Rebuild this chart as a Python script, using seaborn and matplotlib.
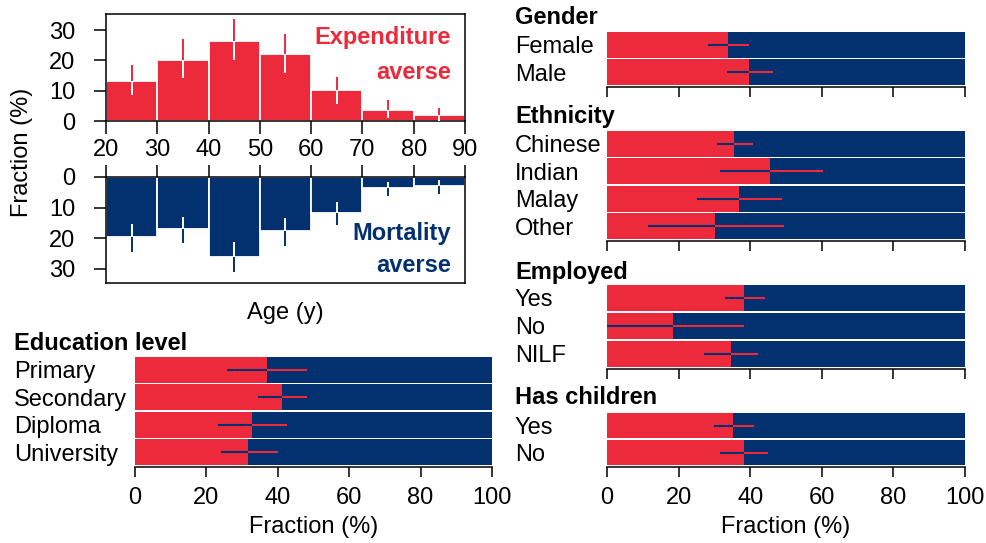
import matplotlib
matplotlib.use("Agg")
import matplotlib.pyplot as plt
import seaborn as sns
import numpy as np

# ── Config ────────────────────────────────────────────────────────
sns.set_theme(style="ticks")
plt.rcParams["font.family"] = ["Liberation Sans", "DejaVu Sans"]
plt.rcParams.update({"text.color": "black", "axes.labelcolor": "black",
                     "xtick.color": "black", "ytick.color": "black"})

RED  = "#EC2A3C"
NAVY = "#03316F"
FS   = 17

# ── Dados: histogramas por idade ──────────────────────────────────
AGE_EDGES = [20, 30, 40, 50, 60, 70, 80, 90]
AGE_MID   = [25, 35, 45, 55, 65, 75, 85]
EXP_FRAC  = [13.2, 20.2, 26.5, 22.1, 10.2, 3.6, 1.9]
EXP_LO    = [8.6, 14.3, 20.1, 15.9, 5.6, 0.9, 0.1]
EXP_HI    = [18.5, 26.9, 33.5, 28.6, 14.6, 6.9, 4.4]
MORT_FRAC = [19.8, 17.2, 26.2, 17.8, 11.7, 3.5, 2.9]
MORT_LO   = [15.5, 13.1, 21.3, 13.6, 8.2, 1.6, 1.1]
MORT_HI   = [24.5, 21.8, 31.1, 22.6, 15.6, 6.2, 5.5]

# ── Dados: painéis de fração ──────────────────────────────────────
EDU_CATS = ["Primary", "Secondary", "Diploma", "University"]
EDU_FRAC = [36.9, 41.1, 32.7, 31.7]
EDU_LO   = [25.7, 34.5, 23.2, 24.0]
EDU_HI   = [48.3, 48.3, 42.7, 40.1]

GEN_CATS = ["Female", "Male"]
GEN_FRAC = [33.8, 39.7]
GEN_LO   = [28.3, 33.4]
GEN_HI   = [39.7, 46.3]

ETH_CATS = ["Chinese", "Indian", "Malay", "Other"]
ETH_FRAC = [35.6, 45.6, 36.9, 30.2]
ETH_LO   = [30.8, 31.7, 25.1, 11.5]
ETH_HI   = [40.9, 60.2, 49.0, 49.5]

EMP_CATS = ["Yes", "No", "NILF"]
EMP_FRAC = [38.4, 18.4, 34.5]
EMP_LO   = [33.1, 0.0, 27.1]
EMP_HI   = [44.0, 38.2, 42.2]

CHI_CATS = ["Yes", "No"]
CHI_FRAC = [35.3, 38.2]
CHI_LO   = [29.9, 31.7]
CHI_HI   = [41.1, 44.9]

FRAC_TICKS = [0, 20, 40, 60, 80, 100]

W, H = 987, 543
fig = plt.figure(figsize=(W / 100, H / 100), dpi=100)


def box(x0, y0, x1, y1):
    # pixel box -> fig fraction rect
    return [x0 / W, 1 - y1 / H, (x1 - x0) / W, (y1 - y0) / H]


# ─────────────────────────────────────────────────────────────────
# Histograma de idade (Expenditure / Mortality)
# ─────────────────────────────────────────────────────────────────
def age_hist(ax, frac, lo, hi, color):
    sns.histplot(x=AGE_MID, weights=frac, bins=AGE_EDGES, color=color,
                 edgecolor="white", linewidth=1.3, alpha=1, ax=ax)
    for m, v, l, h in zip(AGE_MID, frac, lo, hi):
        ax.vlines(m, l, h, color=color, lw=1.4, zorder=3)
        ax.vlines(m, l, min(v, h), color="white", lw=1.4, zorder=4)
    ax.set_xlim(20, 90)
    ax.set_yticks([0, 10, 20, 30])
    ax.set_xticks(range(20, 91, 10))
    ax.set_xlabel("")
    ax.set_ylabel("")
    for s in ax.spines.values():
        s.set_color("black")
        s.set_linewidth(1.1)
    ax.tick_params(length=9, width=1.1, colors="black", labelsize=FS, pad=4)
    ax.tick_params(axis="y", pad=13)


ax_top = fig.add_axes(box(106, 14, 465, 121))
age_hist(ax_top, EXP_FRAC, EXP_LO, EXP_HI, RED)
ax_top.set_ylim(0, 35.3)
ax_top.text(87.3, 25.4, "Expenditure", color=RED, ha="right", fontsize=FS, fontweight="bold")
ax_top.text(87.3, 13.8, "averse", color=RED, ha="right", fontsize=FS, fontweight="bold")

ax_bot = fig.add_axes(box(106, 177, 465, 283))
age_hist(ax_bot, MORT_FRAC, MORT_LO, MORT_HI, NAVY)
ax_bot.set_ylim(34.75, 0)
ax_bot.xaxis.tick_top()
ax_bot.tick_params(axis="x", labeltop=False)
ax_bot.text(87.3, 20.8, "Mortality", color=NAVY, ha="right", fontsize=FS, fontweight="bold")
ax_bot.text(87.3, 31.2, "averse", color=NAVY, ha="right", fontsize=FS, fontweight="bold")

fig.text(22 / W, 1 - 152 / H, "Fraction (%)", rotation=90, ha="center", va="center", fontsize=FS)
fig.text(285 / W, 1 - 313 / H, "Age (y)", ha="center", va="center", fontsize=FS)


# ─────────────────────────────────────────────────────────────────
# Painéis de barras empilhadas
# ─────────────────────────────────────────────────────────────────
def frac_panel(ax, cats, frac, lo, hi, title, label_x, title_y, show_ticklabels):
    sns.barplot(x=[100] * len(cats), y=cats, orient="h", color=NAVY,
                saturation=1, width=0.93, errorbar=None, ax=ax)
    sns.barplot(x=frac, y=cats, orient="h", color=RED,
                saturation=1, width=0.93, errorbar=None, ax=ax)
    for s in ax.patches:
        s.set_linewidth(0)
    for i, (v, l, h) in enumerate(zip(frac, lo, hi)):
        ax.hlines(i, l, v, color=NAVY, lw=1.5, zorder=3)
        ax.hlines(i, v, h, color=RED, lw=1.5, zorder=3)
    ax.set_xlim(0, 100)
    ax.set_ylim(len(cats) - 0.5, -0.5)
    ax.set_xticks(FRAC_TICKS)
    ax.set_xlabel("")
    ax.set_ylabel("")
    for k in ["top", "right", "left"]:
        ax.spines[k].set_visible(False)
    ax.spines["bottom"].set_color("black")
    ax.spines["bottom"].set_linewidth(1.1)
    ax.spines["bottom"].set_position(("outward", 1))
    ax.tick_params(axis="x", length=7, width=1.1, colors="black",
                   labelsize=FS, pad=7, labelbottom=show_ticklabels)
    # category labels, left-aligned at label_x (pixels)
    bb = ax.get_position()
    pad_pt = (bb.x0 * W - label_x) * 72 / 100
    ax.tick_params(axis="y", length=0, pad=pad_pt, labelsize=FS, colors="black")
    for t in ax.get_yticklabels():
        t.set_horizontalalignment("left")
    fig.text(label_x / W, 1 - title_y / H, title, ha="left", va="center",
             fontsize=FS, fontweight="bold")
    if show_ticklabels:
        ax.set_xlabel("Fraction (%)", fontsize=FS, labelpad=5)


ax_edu = fig.add_axes(box(135, 356, 492, 466))
frac_panel(ax_edu, EDU_CATS, EDU_FRAC, EDU_LO, EDU_HI, "Education level", 14, 343, True)

ax_gen = fig.add_axes(box(607, 31, 965, 86))
frac_panel(ax_gen, GEN_CATS, GEN_FRAC, GEN_LO, GEN_HI, "Gender", 515, 17, False)

ax_eth = fig.add_axes(box(607, 130, 965, 240))
frac_panel(ax_eth, ETH_CATS, ETH_FRAC, ETH_LO, ETH_HI, "Ethnicity", 515, 117, False)

ax_emp = fig.add_axes(box(607, 284, 965, 368))
frac_panel(ax_emp, EMP_CATS, EMP_FRAC, EMP_LO, EMP_HI, "Employed", 515, 272, False)

ax_chi = fig.add_axes(box(607, 412, 965, 466))
frac_panel(ax_chi, CHI_CATS, CHI_FRAC, CHI_LO, CHI_HI, "Has children", 515, 398, True)

fig.savefig("out.png", dpi=100, facecolor="white")
plt.close()
